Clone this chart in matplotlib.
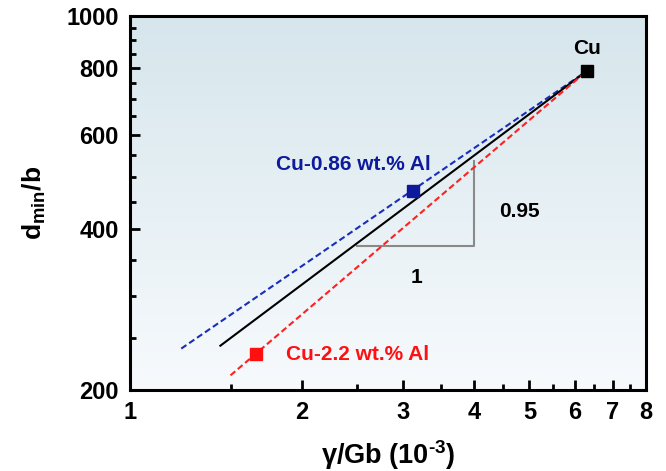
import numpy as np
import matplotlib
matplotlib.use('Agg')
import matplotlib.pyplot as plt
from matplotlib.colors import LinearSegmentedColormap
from matplotlib.ticker import FixedLocator, NullFormatter

plt.rcParams['font.family'] = ['Liberation Sans', 'DejaVu Sans']
plt.rcParams['font.weight'] = 'bold'
plt.rcParams['axes.labelweight'] = 'bold'
plt.rcParams['mathtext.fontset'] = 'custom'
plt.rcParams['mathtext.rm'] = 'Liberation Sans:bold'
plt.rcParams['mathtext.bf'] = 'Liberation Sans:bold'
plt.rcParams['mathtext.it'] = 'Liberation Sans:bold'

# measured points
alloys = ['Cu', 'Cu-0.86 wt.% Al', 'Cu-2.2 wt.% Al']
gamma_gb = [6.31, 3.13, 1.66]
dmin_b = [790, 471, 234]
point_colors = ['black', '#0d1a9c', '#ff1010']

# fit lines (start point -> Cu)
fit_x = {'blue': [1.23, 6.31], 'black': [1.44, 6.31], 'red': [1.50, 6.31]}
fit_y = {'blue': [239, 790], 'black': [242, 790], 'red': [213, 790]}

# slope triangle
tri_x = [2.5, 4.0, 4.0]
tri_y = [372, 372, 536]

xticks = [1, 2, 3, 4, 5, 6, 7, 8]
xminor = [1.5, 2.5, 3.5, 4.5, 5.5, 6.5, 7.5]
yticks = [200, 400, 600, 800, 1000]
yminor = [250, 300, 350, 450, 500, 550, 650, 700, 750, 850, 900, 950]

fig = plt.figure(figsize=(6.66, 4.71), dpi=100)
ax = fig.add_axes([0.195, 0.172, 0.775, 0.794])
ax.set_xscale('log')
ax.set_yscale('log')
ax.set_xlim(1, 8)
ax.set_ylim(200, 1000)

# background gradient
cmap = LinearSegmentedColormap.from_list('bg', ['#f7fafd', '#d6e6ec'])
grad = np.linspace(0, 1, 256).reshape(-1, 1)
ax.imshow(grad, cmap=cmap, aspect='auto', extent=[0, 1, 0, 1],
          transform=ax.transAxes, origin='lower', zorder=0)

ax.plot(fit_x['blue'], fit_y['blue'], color='#1a2db8', ls=(0, (3, 1.6)), lw=1.5, zorder=2)
ax.plot(fit_x['black'], fit_y['black'], color='black', lw=1.5, zorder=2)
ax.plot(fit_x['red'], fit_y['red'], color='#ff2020', ls=(0, (3, 1.6)), lw=1.5, zorder=2)
ax.plot(tri_x, tri_y, color='#8a8a8a', lw=1.5, zorder=1)

for x, y, c in zip(gamma_gb, dmin_b, point_colors):
    ax.plot(x, y, marker='s', color=c, ms=8.5, zorder=3, ls='none')

ax.text(6.3, 870, 'Cu', ha='center', va='center', fontsize=15, color='black')
ax.text(1.80, 527, alloys[1], ha='left', va='center', fontsize=15, color='#0d1a9c')
ax.text(1.876, 232.6, alloys[2], ha='left', va='center', fontsize=15, color='#ff1010')
ax.text(4.80, 432, '0.95', ha='center', va='center', fontsize=15)
ax.text(3.17, 325, '1', ha='center', va='center', fontsize=15)

ax.xaxis.set_major_locator(FixedLocator(xticks))
ax.xaxis.set_minor_locator(FixedLocator(xminor))
ax.set_xticklabels([str(t) for t in xticks])
ax.xaxis.set_minor_formatter(NullFormatter())
ax.yaxis.set_major_locator(FixedLocator(yticks))
ax.yaxis.set_minor_locator(FixedLocator(yminor))
ax.set_yticklabels([str(t) for t in yticks])
ax.yaxis.set_minor_formatter(NullFormatter())

ax.tick_params(which='major', direction='in', length=7, width=2, labelsize=17, pad=8)
ax.tick_params(which='minor', direction='in', length=4, width=2)
for sp in ax.spines.values():
    sp.set_linewidth(2.2)

ax.set_xlabel('γ/Gb (10$^{\u20103}$)', fontsize=19.5, fontweight='bold', labelpad=10)
ax.set_ylabel('d$_{min}$/b', fontsize=19, fontweight='bold', labelpad=13)

fig.savefig('out.png', dpi=100)
